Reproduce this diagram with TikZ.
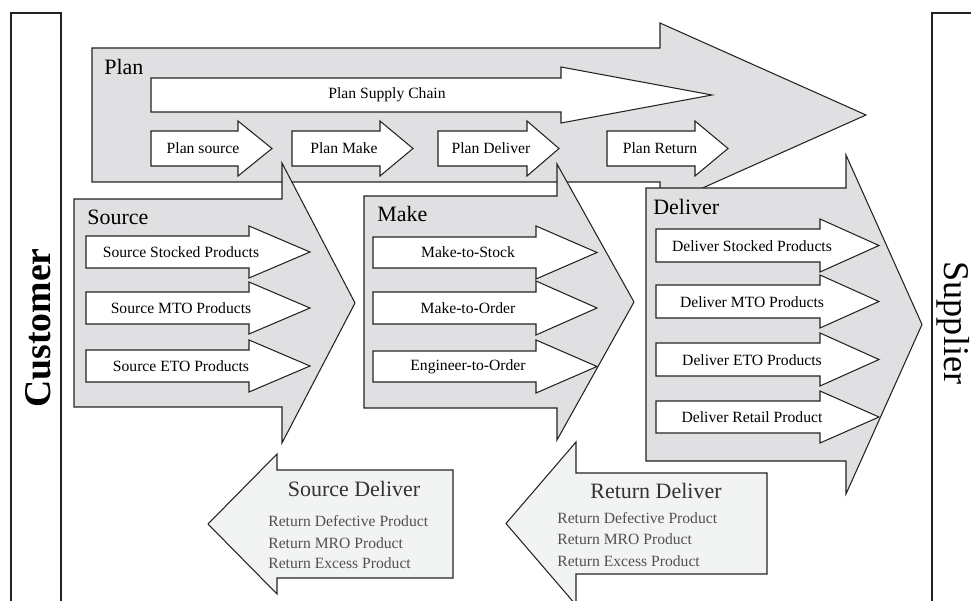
\documentclass[tikz,border=0pt]{standalone}
\usepackage{fontspec}
\setmainfont{Liberation Serif}
\definecolor{blockgray}{RGB}{224,224,226}
\definecolor{retgray}{RGB}{242,243,243}
\definecolor{edgegray}{RGB}{35,35,35}
\definecolor{txtgray}{RGB}{80,80,80}
% block arrow: style, shaft end x, head base x, tip x, shaft top y, shaft bottom y, head overhang
\newcommand{\blockarrow}[7]{\draw[#1] (#2,#5) -- (#3,#5) -- (#3,#5-#7) -- (#4,{(#5+#6)/2}) -- (#3,#6+#7) -- (#3,#6) -- (#2,#6) -- cycle;}

\begin{document}
\begin{tikzpicture}[x=0.02cm, y=-0.02cm, line join=miter,
    big/.style={draw=edgegray, line width=0.6pt, fill=blockgray},
    sub/.style={draw=edgegray, line width=0.6pt, fill=white},
    ret/.style={draw=edgegray, line width=0.6pt, fill=retgray},
    side/.style={draw=edgegray, line width=0.7pt},
    head/.style={anchor=base west, inner sep=0pt, font=\fontsize{12.5}{14}\selectfont},
    lbl/.style={inner sep=0pt, font=\fontsize{8.9}{10}\selectfont},
    rettitle/.style={anchor=base, inner sep=0pt, text=black!80, font=\fontsize{12.5}{14}\selectfont},
    retline/.style={anchor=base west, inner sep=0pt, text=txtgray, font=\fontsize{8.9}{10}\selectfont}]

    \clip (0,0) rectangle (971,601);

    % customer / supplier
    \draw[side] (11,13) rectangle (61,640);
    \draw[side] (932,13) rectangle (1000,640);
    \node[rotate=90, inner sep=0pt, font=\fontsize{21.5}{24}\selectfont\bfseries] (cust) at (38,328) {Customer};
    \node[rotate=-90, inner sep=0pt, font=\fontsize{20.6}{23}\selectfont] (supp) at (953,323) {Supplier};

    % plan
    \blockarrow{big}{92}{660}{866}{48}{182}{25}
    \node[head] (plan) at (104,75) {Plan};
    \blockarrow{sub}{151}{561}{712}{78}{112}{11}
    \node[lbl] (psc) at (387,95) {Plan Supply Chain};
    \blockarrow{sub}{151}{238}{272}{131}{166}{10}
    \blockarrow{sub}{292}{380}{413}{131}{166}{10}
    \blockarrow{sub}{438}{527}{559}{131}{166}{10}
    \blockarrow{sub}{607}{695}{728}{131}{166}{10}
    \node[lbl] (psrc) at (203,148) {Plan source};
    \node[lbl] (pmk) at (344,148) {Plan Make};
    \node[lbl] (pdlv) at (491,148) {Plan Deliver};
    \node[lbl] (pret) at (660,148) {Plan Return};

    % source
    \blockarrow{big}{74}{282}{355}{199}{407}{36}
    \node[head] (src) at (87,225) {Source};
    \blockarrow{sub}{86}{249}{310}{236}{268}{10}
    \blockarrow{sub}{86}{249}{310}{292}{324}{10}
    \blockarrow{sub}{86}{249}{310}{350}{382}{10}
    \node[lbl] (s1) at (181,252) {Source Stocked Products};
    \node[lbl] (s2) at (181,308) {Source MTO Products};
    \node[lbl] (s3) at (181,366) {Source ETO Products};

    % make
    \blockarrow{big}{364}{557}{634}{196}{408}{32}
    \node[head] (mk) at (377,222) {Make};
    \blockarrow{sub}{373}{536}{597}{237}{268}{11}
    \blockarrow{sub}{373}{536}{597}{292}{324}{11}
    \blockarrow{sub}{373}{536}{597}{351}{382}{11}
    \node[lbl] (m1) at (468,252) {Make-to-Stock};
    \node[lbl] (m2) at (468,308) {Make-to-Order};
    \node[lbl] (m3) at (468,367) {Engineer-to-Order};

    % deliver
    \blockarrow{big}{646}{846}{922}{188}{461}{33}
    \node[head] (dlv) at (653,215) {Deliver};
    \blockarrow{sub}{656}{820}{879}{229}{262}{10}
    \blockarrow{sub}{656}{820}{879}{285}{318}{10}
    \blockarrow{sub}{656}{820}{879}{343}{376}{10}
    \blockarrow{sub}{656}{820}{879}{401}{433}{10}
    \node[lbl] (d1) at (752,246) {Deliver Stocked Products};
    \node[lbl] (d2) at (752,302) {Deliver MTO Products};
    \node[lbl] (d3) at (752,360) {Deliver ETO Products};
    \node[lbl] (d4) at (752,417) {Deliver Retail Product};

    % returns
    \blockarrow{ret}{453}{277}{208}{470}{578}{16}
    \node[rettitle] (sdt) at (354,496) {Source Deliver};
    \node[retline] (sd1) at (268,526) {Return Defective Product};
    \node[retline] (sd2) at (268,548) {Return MRO Product};
    \node[retline] (sd3) at (268,568) {Return Excess Product};

    \blockarrow{ret}{767}{576}{506}{473}{574}{31}
    \node[rettitle] (rdt) at (656,499) {Return Deliver};
    \node[retline] (rd1) at (557,523) {Return Defective Product};
    \node[retline] (rd2) at (557,544) {Return MRO Product};
    \node[retline] (rd3) at (557,566) {Return Excess Product};
\end{tikzpicture}
\end{document}
